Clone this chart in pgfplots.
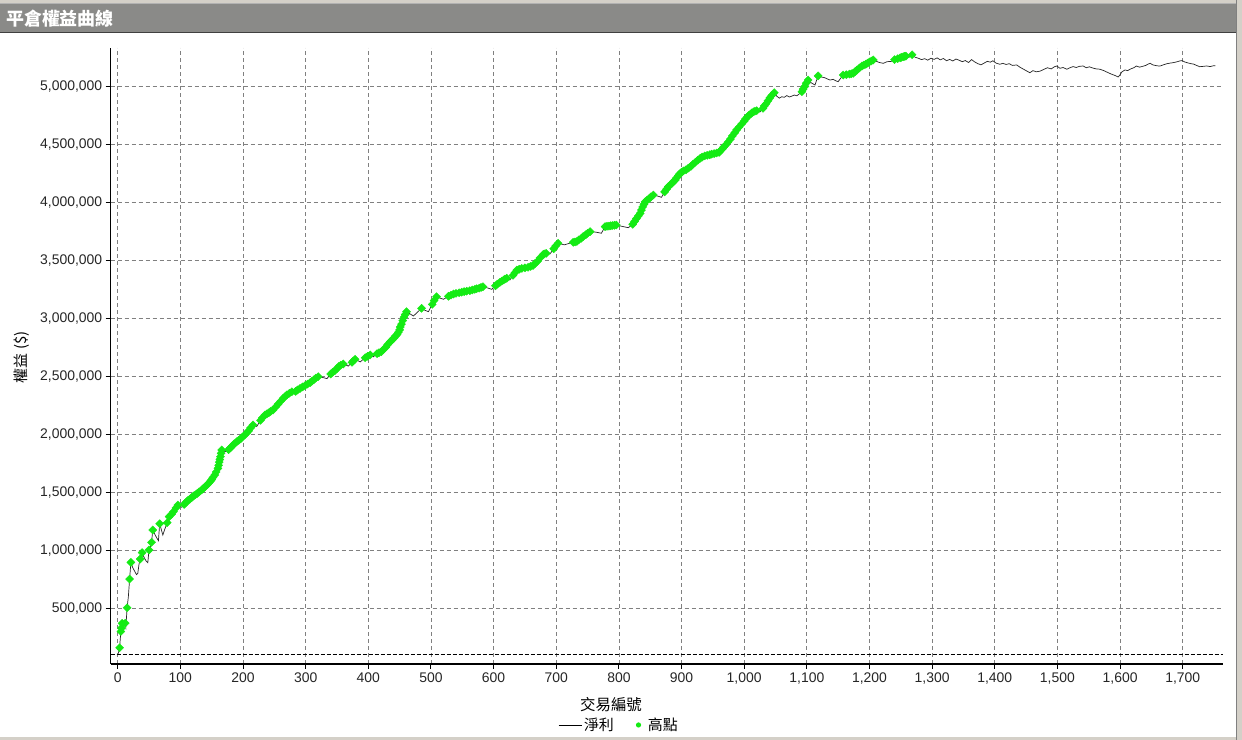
\documentclass[border=0pt]{standalone}
\usepackage{fontspec}
\setmainfont{Liberation Sans}
\newfontfamily\cjk{Noto Sans CJK TC}
\usepackage{pgfplots}
\usepackage{pgfplotstable}
\pgfplotsset{compat=1.18}
\definecolor{hi}{RGB}{20,235,20}
\definecolor{barc}{RGB}{138,138,136}
\definecolor{framec}{RGB}{212,208,200}
\definecolor{gridc}{RGB}{128,128,128}

\pgfplotstableread{
x y
1 110000
3 160000
5 300000
6 330000
7 370000
9 350000
11 365000
12 372000
13 340000
15 505000
17 600000
19 752000
21 896000
24 850000
27 820000
30 790000
32 800000
34 880000
36 925000
39 980000
42 940000
45 910000
48 893000
50 1003000
52 1020000
54 1069000
56 1175000
59 1140000
62 1110000
65 1083000
67 1229000
70 1170000
72 1132000
75 1180000
79 1238000
82 1290000
86 1310000
89 1333000
93 1365000
96 1390000
99 1380000
102 1371000
106 1395000
110 1419000
115 1440000
121 1468000
127 1490000
134 1520000
140 1550000
146 1583000
150 1610000
155 1650000
160 1707000
162 1760000
164 1807000
166 1865000
169 1855000
171 1848000
174 1858000
177 1868000
183 1900000
190 1936000
196 1960000
203 1994000
209 2030000
216 2080000
219 2075000
222 2068000
228 2120000
235 2166000
241 2185000
248 2209000
256 2260000
264 2310000
270 2340000
278 2367000
284 2370000
291 2395000
299 2420000
307 2445000
313 2470000
320 2497000
327 2490000
334 2480000
340 2520000
347 2550000
353 2585000
360 2606000
364 2598000
368 2588000
374 2620000
379 2647000
383 2636000
387 2624000
395 2660000
403 2684000
406 2676000
408 2668000
414 2695000
421 2712000
428 2750000
435 2798000
441 2830000
446 2860000
450 2900000
453 2950000
457 3010000
461 3057000
466 3040000
472 3020000
478 3050000
485 3086000
490 3070000
496 3057000
502 3120000
509 3186000
514 3175000
520 3164000
528 3190000
536 3209000
545 3220000
553 3230000
562 3238000
570 3250000
577 3260000
583 3272000
590 3262000
597 3250000
603 3280000
610 3310000
616 3330000
621 3345000
626 3330000
631 3370000
637 3416000
645 3430000
655 3440000
663 3455000
670 3490000
679 3550000
684 3560000
690 3555000
696 3600000
703 3647000
708 3640000
713 3633000
720 3645000
727 3655000
733 3662000
740 3690000
747 3720000
754 3747000
760 3745000
766 3740000
772 3733000
778 3790000
784 3795000
790 3800000
796 3804000
803 3795000
809 3788000
815 3781000
822 3810000
828 3860000
834 3905000
838 3960000
842 4005000
848 4030000
855 4063000
861 4055000
868 4043000
873 4090000
879 4135000
885 4165000
890 4192000
895 4230000
900 4260000
907 4280000
915 4310000
922 4345000
930 4380000
937 4400000
945 4410000
952 4420000
960 4430000
965 4460000
970 4490000
978 4545000
985 4600000
992 4650000
1000 4700000
1005 4735000
1010 4760000
1015 4780000
1020 4790000
1025 4778000
1030 4810000
1035 4850000
1041 4900000
1048 4945000
1052 4915000
1056 4898000
1060 4910000
1064 4905000
1068 4920000
1072 4908000
1076 4915000
1080 4925000
1084 4918000
1088 4935000
1092 4953000
1097 5000000
1102 5054000
1107 5030000
1113 5011000
1118 5090000
1123 5080000
1128 5075000
1132 5065000
1137 5054000
1142 5060000
1146 5048000
1150 5040000
1154 5070000
1158 5097000
1163 5100000
1168 5105000
1174 5112000
1180 5140000
1188 5175000
1194 5190000
1200 5210000
1206 5227000
1211 5215000
1216 5205000
1222 5198000
1228 5212000
1235 5215000
1240 5230000
1245 5238000
1249 5245000
1254 5255000
1258 5260000
1263 5250000
1268 5272000
1273 5250000
1278 5242000
1283 5230000
1288 5238000
1293 5225000
1298 5242000
1303 5232000
1308 5245000
1313 5228000
1318 5240000
1323 5220000
1328 5232000
1333 5218000
1338 5235000
1343 5225000
1348 5212000
1353 5222000
1358 5205000
1363 5230000
1368 5210000
1373 5195000
1378 5185000
1383 5200000
1388 5215000
1393 5208000
1397 5220000
1402 5200000
1408 5190000
1413 5198000
1418 5188000
1423 5195000
1428 5180000
1435 5184000
1440 5165000
1445 5150000
1450 5135000
1456 5117000
1461 5135000
1466 5125000
1472 5130000
1478 5145000
1484 5160000
1490 5150000
1495 5168000
1499 5175000
1504 5155000
1509 5162000
1515 5147000
1520 5160000
1525 5170000
1530 5162000
1535 5172000
1541 5175000
1546 5160000
1551 5168000
1556 5158000
1562 5150000
1568 5147000
1574 5135000
1580 5120000
1586 5105000
1592 5093000
1597 5080000
1600 5100000
1603 5125000
1608 5141000
1612 5135000
1617 5150000
1622 5160000
1626 5175000
1631 5165000
1636 5172000
1641 5180000
1645 5192000
1648 5198000
1652 5185000
1656 5180000
1660 5176000
1664 5175000
1669 5185000
1675 5195000
1680 5200000
1685 5204000
1690 5210000
1695 5218000
1699 5222000
1703 5210000
1708 5202000
1713 5195000
1717 5192000
1722 5180000
1727 5169000
1733 5172000
1738 5175000
1744 5170000
1748 5176000
1752 5178000
}\netdata

\pgfplotstableread{
x y
3 160000
5 300000
6 330000
7 370000
12 372000
15 505000
19 752000
21 896000
36 925000
39 980000
50 1003000
54 1069000
56 1175000
67 1229000
79 1238000
82 1290000
86 1310000
89 1333000
93 1365000
96 1390000
106 1395000
108 1407000
110 1419000
112 1429000
115 1440000
118 1454000
121 1468000
124 1479000
127 1490000
130 1504000
134 1520000
137 1535000
140 1550000
143 1566000
146 1583000
148 1596000
150 1610000
152 1628000
155 1650000
157 1675000
160 1707000
161 1733000
162 1760000
163 1783000
164 1807000
165 1836000
166 1865000
177 1868000
180 1884000
183 1900000
186 1918000
190 1936000
193 1948000
196 1960000
199 1977000
203 1994000
206 2012000
209 2030000
212 2055000
216 2080000
228 2120000
231 2143000
235 2166000
238 2176000
241 2185000
244 2197000
248 2209000
252 2235000
256 2260000
260 2285000
264 2310000
267 2325000
270 2340000
274 2354000
278 2367000
284 2370000
287 2382000
291 2395000
295 2408000
299 2420000
303 2433000
307 2445000
310 2458000
313 2470000
316 2484000
320 2497000
340 2520000
343 2535000
347 2550000
350 2567000
353 2585000
356 2596000
360 2606000
374 2620000
376 2633000
379 2647000
395 2660000
399 2672000
403 2684000
414 2695000
417 2703000
421 2712000
424 2731000
428 2750000
431 2774000
435 2798000
438 2814000
441 2830000
443 2845000
446 2860000
448 2880000
450 2900000
451 2925000
453 2950000
455 2980000
457 3010000
459 3033000
461 3057000
485 3086000
502 3120000
505 3153000
509 3186000
528 3190000
532 3200000
536 3209000
540 3215000
545 3220000
549 3225000
553 3230000
557 3234000
562 3238000
566 3244000
570 3250000
573 3255000
577 3260000
580 3266000
583 3272000
603 3280000
606 3295000
610 3310000
613 3320000
616 3330000
618 3338000
621 3345000
631 3370000
634 3393000
637 3416000
641 3423000
645 3430000
650 3435000
655 3440000
659 3447000
663 3455000
666 3472000
670 3490000
674 3520000
679 3550000
681 3555000
684 3560000
696 3600000
699 3623000
703 3647000
727 3655000
730 3658000
733 3662000
736 3676000
740 3690000
743 3705000
747 3720000
750 3733000
754 3747000
778 3790000
781 3793000
784 3795000
787 3798000
790 3800000
793 3802000
796 3804000
822 3810000
825 3835000
828 3860000
831 3883000
834 3905000
836 3933000
838 3960000
840 3983000
842 4005000
845 4018000
848 4030000
851 4047000
855 4063000
873 4090000
876 4113000
879 4135000
882 4150000
885 4165000
887 4178000
890 4192000
892 4211000
895 4230000
897 4245000
900 4260000
903 4270000
907 4280000
911 4295000
915 4310000
918 4328000
922 4345000
926 4363000
930 4380000
933 4390000
937 4400000
941 4405000
945 4410000
948 4415000
952 4420000
956 4425000
960 4430000
962 4445000
965 4460000
967 4475000
970 4490000
974 4518000
978 4545000
981 4572000
985 4600000
988 4625000
992 4650000
996 4675000
1000 4700000
1002 4718000
1005 4735000
1007 4748000
1010 4760000
1012 4770000
1015 4780000
1017 4785000
1020 4790000
1030 4810000
1032 4830000
1035 4850000
1038 4875000
1041 4900000
1044 4922000
1048 4945000
1092 4953000
1094 4975000
1097 5000000
1099 5027000
1102 5054000
1118 5090000
1158 5097000
1163 5100000
1168 5105000
1171 5108000
1174 5112000
1177 5126000
1180 5140000
1184 5158000
1188 5175000
1191 5183000
1194 5190000
1197 5200000
1200 5210000
1203 5218000
1206 5227000
1240 5230000
1245 5238000
1249 5245000
1251 5250000
1254 5255000
1256 5258000
1258 5260000
1268 5272000
}\highdata

\begin{document}
\begin{tikzpicture}[x=1bp,y=1bp]
\useasboundingbox (0,0) rectangle (1242,740);
\fill[framec] (0,0) rectangle (1242,740);
\fill[white] (0,3) rectangle (1236,708);
\fill[barc] (0,708) rectangle (1236,736);
\draw[black!75, line width=1bp] (0,707.5) -- (1236,707.5);
\draw[gray, line width=1bp] (1236.5,0) -- (1236.5,740);
\draw[gray!60, line width=1bp] (0,736.5) -- (1236,736.5);
\node[anchor=west, text=white, inner sep=0pt, font=\cjk\bfseries\fontsize{18}{20}\selectfont] at (6,721.5) {平倉權益曲線};

\begin{axis}[
  at={(110.7bp,76bp)}, anchor=south west,
  scale only axis, width=1112.3bp, height=616bp,
  xmin=-11.2, xmax=1764.3, ymin=19800, ymax=5330300,
  axis x line*=bottom, axis y line*=left,
  axis line style={black, line width=1.2bp},
  tick align=outside, major tick length=5bp,
  major tick style={black, line width=1bp},
  xtick={0,100,...,1700},
  ytick={500000,1000000,1500000,2000000,2500000,3000000,3500000,4000000,4500000,5000000},
  scaled x ticks=false, scaled y ticks=false,
  /pgf/number format/.cd, fixed, precision=0, 1000 sep={,}, assume math mode=true, /pgfplots/.cd,
  ticklabel style={font=\fontsize{14}{16}\selectfont, text=black!85},
  grid=major,
  major grid style={gridc, dash pattern=on 4bp off 3bp, line width=0.8bp},
  xlabel={\cjk 交易編號},
  xlabel style={at={(axis description cs:0.4498,-0.0666)}, anchor=center, font=\fontsize{15.5}{17}\selectfont},
  ylabel={\cjk 權益 (\$)},
  ylabel style={at={(axis description cs:-0.0797,0.498)}, anchor=center, rotate=0, font=\fontsize{15}{17}\selectfont},
  legend columns=2,
  legend style={at={(axis description cs:0.457,-0.099)}, anchor=center, draw=none, fill=none,
    font=\cjk\fontsize{15}{17}\selectfont, inner sep=0pt,
    /tikz/every even column/.append style={column sep=20bp}},
  clip=false,
]
\addplot[black, dash pattern=on 4bp off 2bp, line width=0.8bp, forget plot] coordinates {(-11.2,100000) (1764.3,100000)};
\addplot[black!85, line width=0.7bp, mark=none,
  legend image code/.code={\draw[black, line width=0.8bp] (0bp,0bp) -- (23bp,0bp);}] table[x=x,y=y] {\netdata};
\addlegendentry{淨利}
\addplot[only marks, mark=square*, mark size=2.85bp, mark options={rotate=45, fill=hi, draw=hi, line width=0.4bp},
  legend image code/.code={\path[draw=none, fill=none] (0bp,-1bp) rectangle (10bp,1bp); \fill[hi, draw=none] (2.6bp,0bp) circle (2.6bp);}] table[x=x,y=y] {\highdata};
\addlegendentry{高點}
\end{axis}
\end{tikzpicture}
\end{document}
